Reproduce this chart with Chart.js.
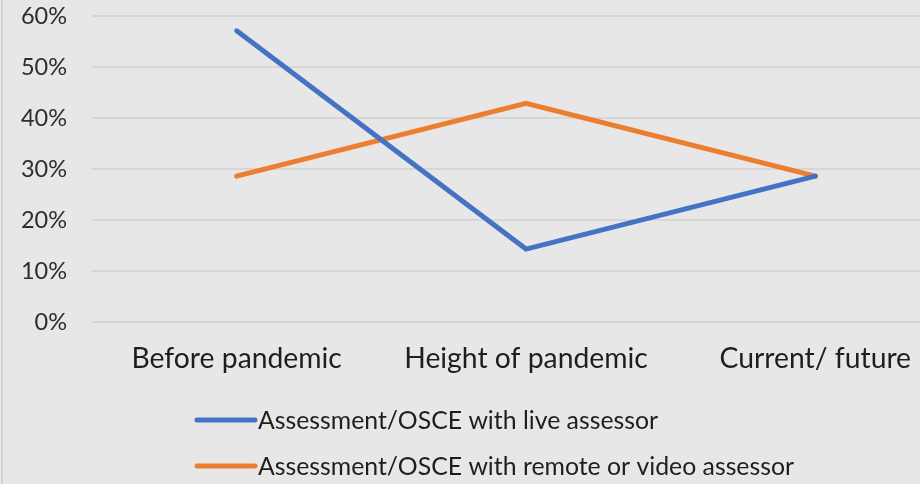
<!DOCTYPE html>
<html>
<head>
<meta charset="utf-8">
<script src="https://cdn.jsdelivr.net/npm/chart.js@4.4.1/dist/chart.umd.min.js"></script>
<style>
  html, body { margin: 0; padding: 0; background: #e7e7e7; overflow: hidden; }
  #wrap { position: relative; width: 965px; height: 484px; }
</style>
</head>
<body>
<div id="wrap"><canvas id="chart"></canvas></div>
<script>
// Survey periods and share of respondents (%) for each assessment format
const periods = ['Before pandemic', 'Height of pandemic', 'Current/ future'];
const liveAssessor = [57.1, 14.3, 28.6];
const remoteAssessor = [28.6, 42.9, 28.6];
const seriesNames = [
  'Assessment/OSCE with live assessor',
  'Assessment/OSCE with remote or video assessor'
];
const seriesColors = ['#4472C4', '#ED7D31'];
const yTicks = [0, 10, 20, 30, 40, 50, 60];

const FONT = 'Lato, "Open Sans", sans-serif';

// Plain grey panel with a thin frame line on the left side
const panel = {
  id: 'panel',
  beforeDraw(chart) {
    const { ctx, width, height } = chart;
    ctx.save();
    ctx.fillStyle = '#e7e7e7';
    ctx.fillRect(0, 0, width, height);
    ctx.strokeStyle = '#d2d2d2';
    ctx.lineWidth = 2;
    ctx.beginPath();
    ctx.moveTo(2, 0);
    ctx.lineTo(2, height);
    ctx.stroke();
    ctx.restore();
  }
};

// Legend stacked in two rows, left-aligned under the axis labels
const stackedLegend = {
  id: 'stackedLegend',
  afterDraw(chart) {
    const { ctx } = chart;
    const x0 = 197, x1 = 255, rows = [420, 466];
    ctx.save();
    chart.data.datasets.forEach((ds, i) => {
      const y = rows[i];
      ctx.strokeStyle = ds.borderColor;
      ctx.lineWidth = 5;
      ctx.lineCap = 'round';
      ctx.beginPath();
      ctx.moveTo(x0, y);
      ctx.lineTo(x1, y);
      ctx.stroke();
      ctx.fillStyle = '#1e1e1e';
      ctx.font = '24.8px ' + FONT;
      ctx.textBaseline = 'middle';
      ctx.textAlign = 'left';
      ctx.fillText(ds.label, x1 + 3, y + 1);
    });
    ctx.restore();
  }
};

new Chart(document.getElementById('chart'), {
  type: 'line',
  data: {
    labels: periods,
    datasets: [
      { label: seriesNames[0], data: liveAssessor, borderColor: seriesColors[0], backgroundColor: seriesColors[0] },
      { label: seriesNames[1], data: remoteAssessor, borderColor: seriesColors[1], backgroundColor: seriesColors[1] }
    ]
  },
  options: {
    responsive: true,
    maintainAspectRatio: false,
    animation: false,
    devicePixelRatio: 1,
    layout: { padding: { top: 16, right: 5, bottom: 94, left: 0 } },
    elements: {
      line: { borderWidth: 5, tension: 0, borderCapStyle: 'round', borderJoinStyle: 'miter' },
      point: { radius: 0, hoverRadius: 0 }
    },
    plugins: {
      legend: { display: false },
      tooltip: { enabled: false }
    },
    scales: {
      x: {
        offset: true,
        grid: { display: false, drawTicks: false },
        border: { display: false },
        ticks: { color: '#1e1e1e', font: { family: FONT, size: 28.3 }, padding: 20, maxRotation: 0 },
        afterFit(scale) { scale.height = 68; scale.paddingLeft = 0; scale.paddingRight = 0; }
      },
      y: {
        min: 0,
        max: 60,
        afterBuildTicks(scale) { scale.ticks = yTicks.map(v => ({ value: v })); },
        grid: { color: '#d6d6d6', lineWidth: 2, drawTicks: false },
        border: { display: false },
        ticks: { color: '#2e2e2e', font: { family: FONT, size: 23.5 }, padding: 25, callback: v => v + '%' },
        afterFit(scale) { scale.width = 92; scale.paddingTop = 0; scale.paddingBottom = 0; }
      }
    }
  },
  plugins: [panel, stackedLegend]
});
</script>
</body>
</html>
